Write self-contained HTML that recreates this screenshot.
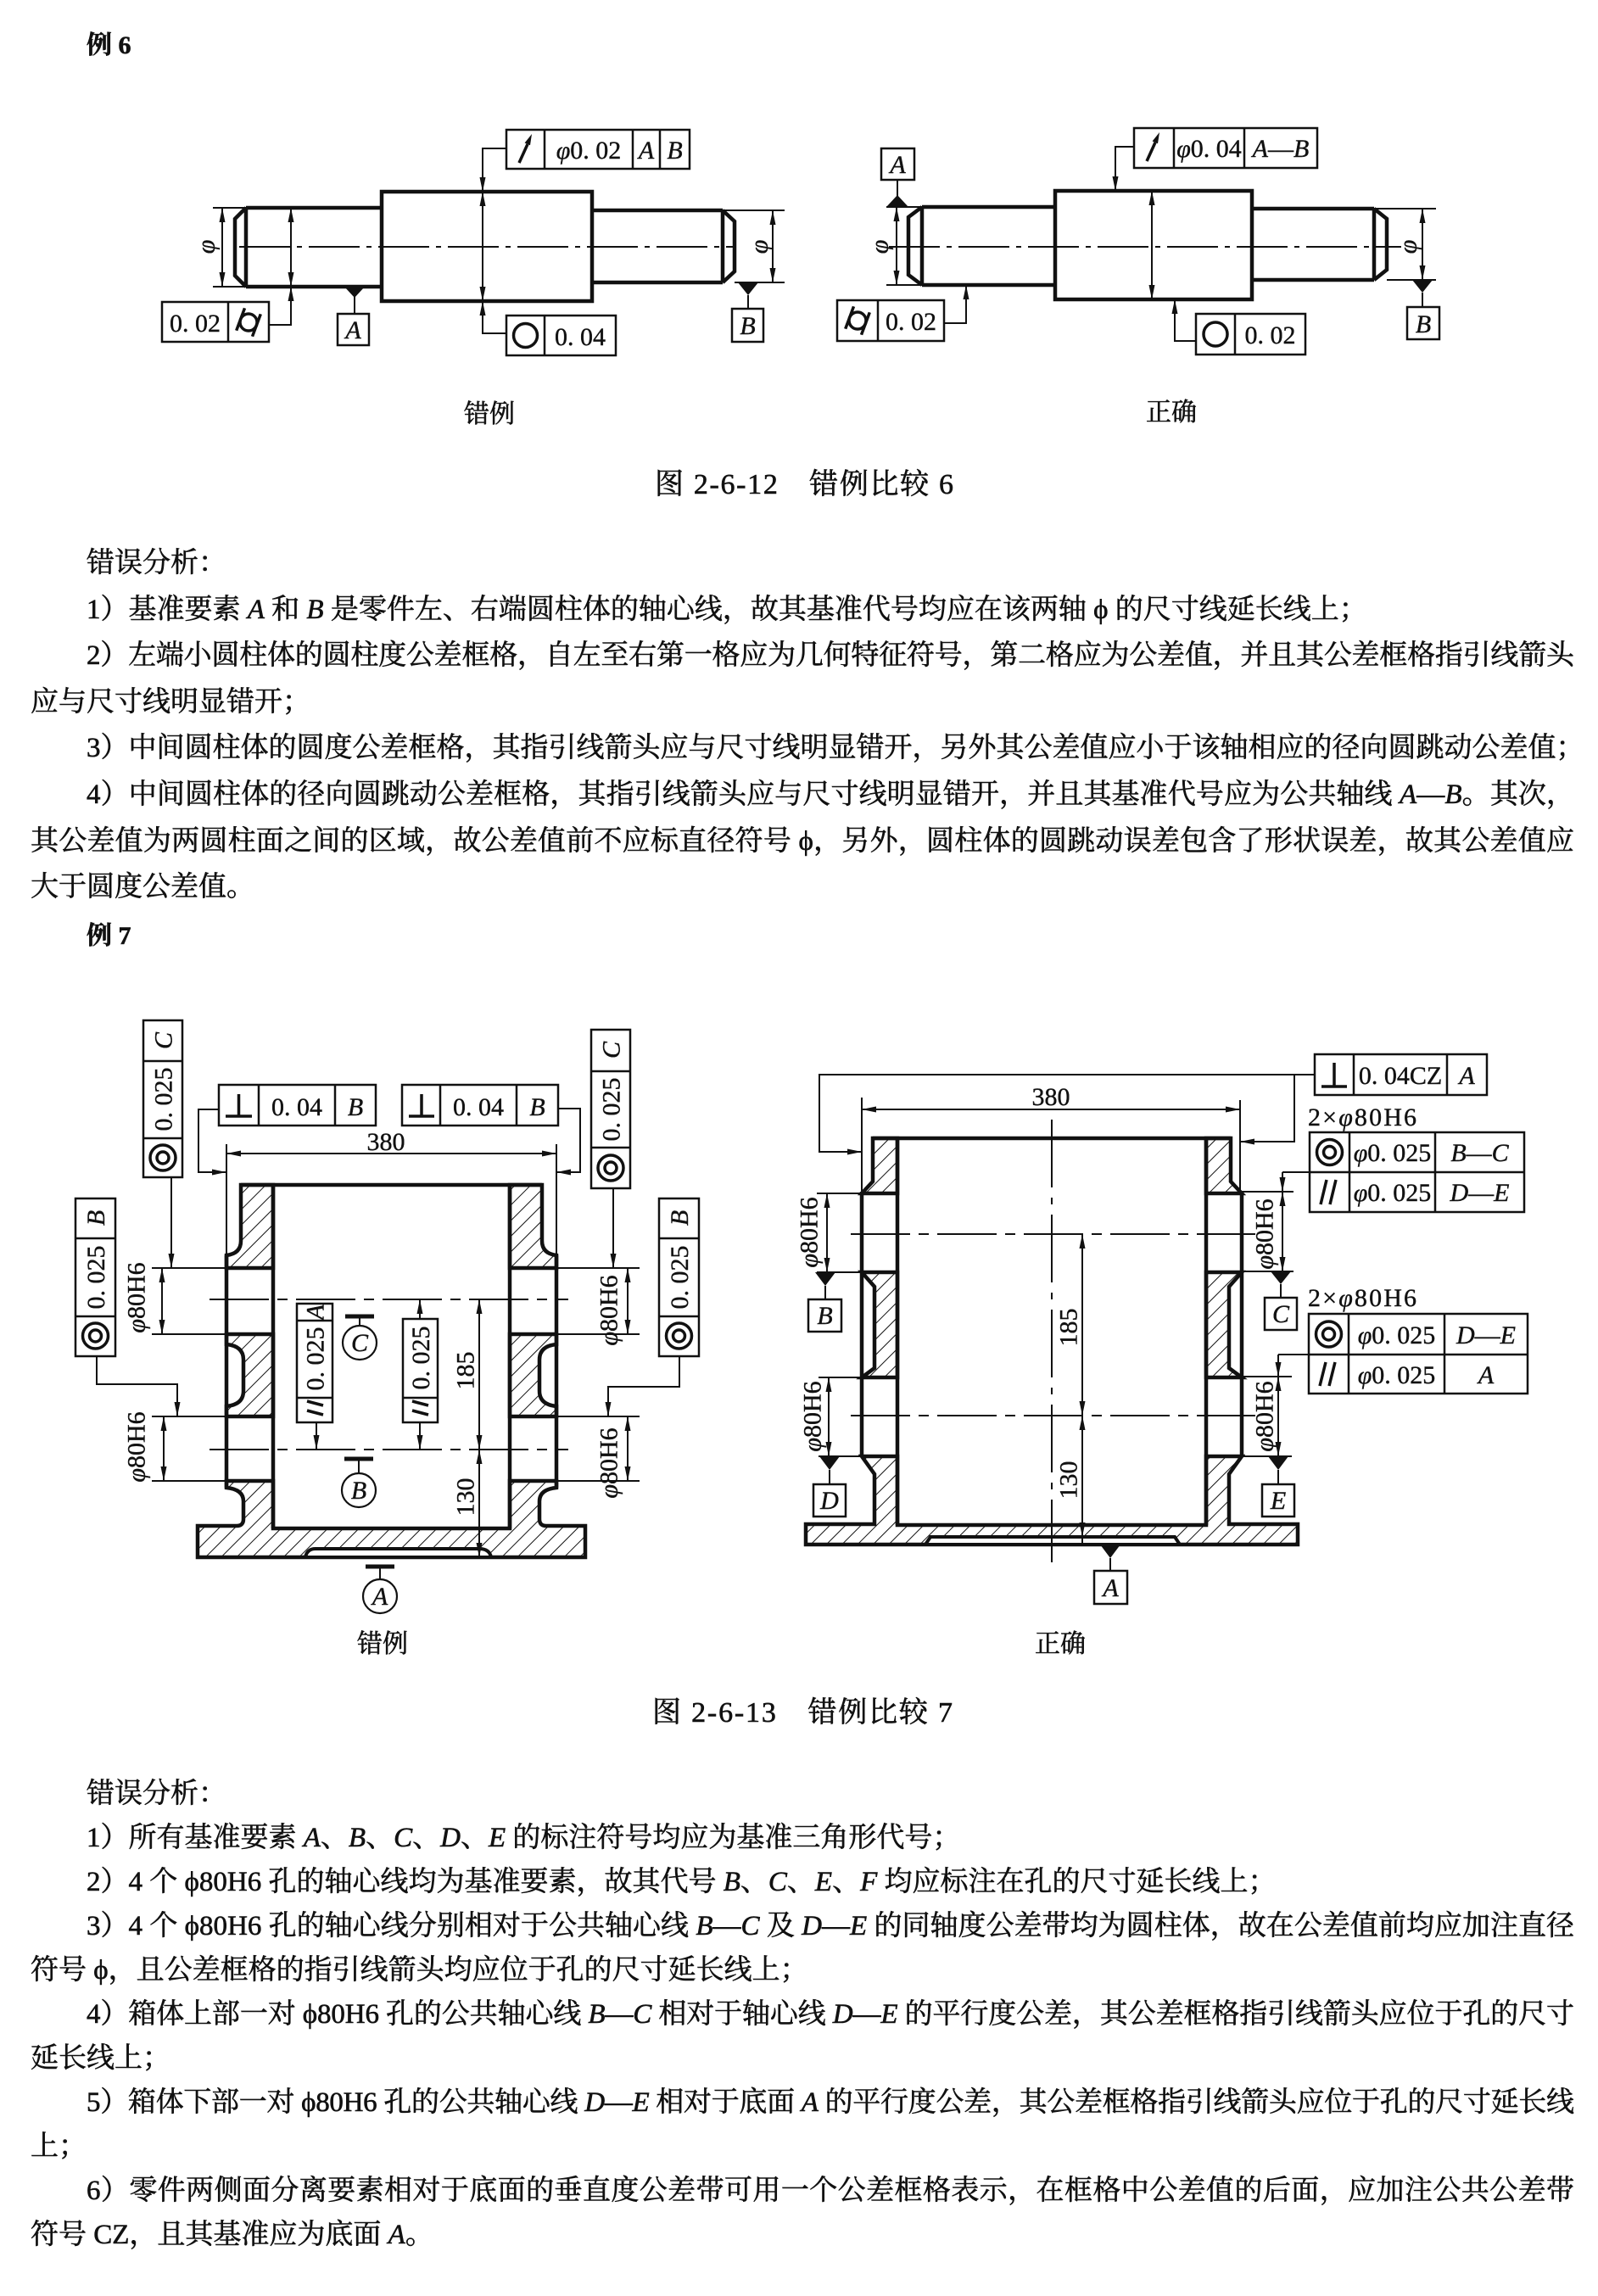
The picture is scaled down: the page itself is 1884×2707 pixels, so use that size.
<!DOCTYPE html>
<html><head><meta charset="utf-8">
<style>
html,body{margin:0;padding:0;background:#fff}
svg{display:block}
.t{font-family:"Liberation Serif","Noto Serif CJK SC",serif;font-size:33px;fill:#111;stroke:#111;stroke-width:0.6}
.c{font-family:"Liberation Serif","Noto Serif CJK SC",serif;fill:#111;stroke:#111;stroke-width:0.6}
.d{font-family:"Liberation Serif","Noto Serif CJK SC",serif;font-size:30px;fill:#111;stroke:#111;stroke-width:0.4}
.i{font-style:italic}
.k{stroke:#111;stroke-width:4.5;fill:none}
.n{stroke:#111;stroke-width:2;fill:none}
.f{stroke:#111;stroke-width:2.5;fill:none}
.s{stroke:#111;stroke-width:3.5;fill:none}
.a{fill:#111;stroke:none}
.h{fill:url(#h);stroke:#111;stroke-width:4.5}
</style></head><body>
<svg xmlns="http://www.w3.org/2000/svg" width="1884" height="2707" viewBox="0 0 1884 2707">
<defs>
<pattern id="h" patternUnits="userSpaceOnUse" width="13" height="13" patternTransform="rotate(45)">
<line x1="0" y1="0" x2="0" y2="13" stroke="#111" stroke-width="2"/>
</pattern>
</defs>
<rect width="1884" height="2707" fill="#fff"/>

<!-- 例6 -->
<text class="c" x="102" y="63" font-size="30" font-weight="bold">例 6</text>

<!-- ================= FIGURE 1 LEFT ================= -->
<g class="n">
<path d="M282,291 H866" stroke-dasharray="60 8 6 8"/>
<path d="M251,245 H290 M251,338 H290 M262,245 V338 M343,245 V383 H317 M597,175 H569 V393 H597 M852,248 H925 M866,333 H925 M911,248 V333 M418,350 V370 M882,348 V364"/>
</g>
<g class="k">
<path d="M290,245 H450 M290,338 H450 M290,245 V338 M290,245 L277,258 V325 L290,338"/>
<rect x="450" y="226" width="248" height="129"/>
<path d="M698,248 H852 M698,333 H852 M852,248 V333 M852,248 L866,261 V320 L852,333"/>
</g>
<g class="f">
<rect x="191" y="356" width="126" height="47"/><path d="M269,356 V403"/>
<rect x="597" y="153" width="216" height="46"/><path d="M642,153 V199 M746,153 V199 M778,153 V199"/>
<rect x="597" y="372" width="129" height="47"/><path d="M642,372 V419"/>
<rect x="398" y="370" width="37" height="37"/>
<rect x="863" y="364" width="37" height="39"/>
</g>
<g class="a">
<polygon points="406,338 430,338 418,351"/>
<polygon points="870,333 894,333 882,348"/>
<polygon points="262,245 258.5,262 265.5,262"/>
<polygon points="262,338 258.5,321 265.5,321"/>
<polygon points="343,245 339.5,262 346.5,262"/>
<polygon points="343,338 339.5,321 346.5,321"/>
<polygon points="343,338 339.5,355 346.5,355"/>
<polygon points="569,226 565.5,209 572.5,209"/>
<polygon points="569,226 565.5,243 572.5,243"/>
<polygon points="569,355 565.5,338 572.5,338"/>
<polygon points="569,355 565.5,372 572.5,372"/>
<polygon points="911,248 907.5,265 914.5,265"/>
<polygon points="911,333 907.5,316 914.5,316"/>
<polygon points="627,158 618.6,168.5 625,171.3"/>
</g>
<path class="s" d="M612,192 L622,170"/>
<circle class="s" cx="293" cy="380" r="10"/>
<path class="s" d="M278.7,389.7 L288.5,363.3 M297.5,396.7 L307.3,370.3"/>
<circle class="s" cx="619.5" cy="395.5" r="14"/>
<text class="d" x="230" y="391" text-anchor="middle">0. 02</text>
<text class="d" x="694" y="187" text-anchor="middle"><tspan class="i">φ</tspan>0. 02</text>
<text class="d i" x="762" y="187" text-anchor="middle">A</text>
<text class="d i" x="795.5" y="187" text-anchor="middle">B</text>
<text class="d" x="684" y="407" text-anchor="middle">0. 04</text>
<text class="d i" x="416.5" y="399" text-anchor="middle">A</text>
<text class="d i" x="881.5" y="394" text-anchor="middle">B</text>
<text class="d i" transform="translate(242,291) rotate(-90)" text-anchor="middle" dy="0.35em">φ</text>
<text class="d i" transform="translate(894,291) rotate(-90)" text-anchor="middle" dy="0.35em">φ</text>
<text class="c" x="577" y="498" font-size="30" text-anchor="middle">错例</text>

<!-- ================= FIGURE 1 RIGHT ================= -->
<g class="n">
<path d="M1048,291 H1652" stroke-dasharray="60 8 6 8"/>
<path d="M1045,244 H1087 M1045,336 H1087 M1057,244 V336 M1058,212 V231 M1620,246 H1693 M1635,330 H1693 M1677,246 V330 M1677,345 V362 M1337,173 H1315 V225 M1358,225 V353 M1410,402 H1385 V353 M1113,381 H1139 V336"/>
</g>
<g class="k">
<path d="M1087,244 H1244 M1087,336 H1244 M1087,244 V336 M1087,244 L1071,256 V324 L1087,336"/>
<rect x="1244" y="225" width="232" height="128"/>
<path d="M1476,246 H1620 M1476,330 H1620 M1620,246 V330 M1620,246 L1635,258 V318 L1620,330"/>
</g>
<g class="f">
<rect x="1039" y="175" width="39" height="37"/>
<rect x="1659" y="362" width="38" height="38"/>
<rect x="1337" y="151" width="216" height="47"/><path d="M1384,151 V198 M1467,151 V198"/>
<rect x="1410" y="370" width="129" height="48"/><path d="M1456,370 V418"/>
<rect x="987" y="354" width="126" height="48"/><path d="M1035,354 V402"/>
</g>
<g class="a">
<polygon points="1045,244 1071,244 1058,230"/>
<polygon points="1665,330 1689,330 1677,345"/>
<polygon points="1057,244 1053.5,261 1060.5,261"/>
<polygon points="1057,336 1053.5,319 1060.5,319"/>
<polygon points="1677,246 1673.5,263 1680.5,263"/>
<polygon points="1677,330 1673.5,313 1680.5,313"/>
<polygon points="1315,225 1311.5,208 1318.5,208"/>
<polygon points="1358,225 1354.5,242 1361.5,242"/>
<polygon points="1358,353 1354.5,336 1361.5,336"/>
<polygon points="1385,353 1381.5,370 1388.5,370"/>
<polygon points="1139,336 1135.5,353 1142.5,353"/>
<polygon points="1367,156 1358.6,166.5 1365,169.3"/>
</g>
<path class="s" d="M1352,190 L1362,168"/>
<circle class="s" cx="1011" cy="378" r="10"/>
<path class="s" d="M996.7,387.7 L1006.5,361.3 M1015.5,394.7 L1025.3,368.3"/>
<circle class="s" cx="1433" cy="394" r="14"/>
<text class="d" x="1074" y="389" text-anchor="middle">0. 02</text>
<text class="d" x="1425.5" y="185" text-anchor="middle"><tspan class="i">φ</tspan>0. 04</text>
<text class="d" x="1510" y="185" text-anchor="middle"><tspan class="i">A</tspan>—<tspan class="i">B</tspan></text>
<text class="d" x="1497.5" y="405" text-anchor="middle">0. 02</text>
<text class="d i" x="1058.5" y="204" text-anchor="middle">A</text>
<text class="d i" x="1678" y="392" text-anchor="middle">B</text>
<text class="d i" transform="translate(1036,291) rotate(-90)" text-anchor="middle" dy="0.35em">φ</text>
<text class="d i" transform="translate(1659,291) rotate(-90)" text-anchor="middle" dy="0.35em">φ</text>
<text class="c" x="1381" y="496" font-size="30" text-anchor="middle">正确</text>

<text class="c" x="772" y="582" font-size="34" textLength="352">图 2-6-12　错例比较 6</text>

<!-- ================= TEXT BLOCK 1 ================= -->
<text class="t" x="102" y="674">错误分析：</text>
<text class="t" x="102" y="729">1）基准要素 <tspan class="i">A</tspan> 和 <tspan class="i">B</tspan> 是零件左、右端圆柱体的轴心线，故其基准代号均应在该两轴 ϕ 的尺寸线延长线上；</text>
<text class="t" x="102" y="783" textLength="1754">2）左端小圆柱体的圆柱度公差框格，自左至右第一格应为几何特征符号，第二格应为公差值，并且其公差框格指引线箭头</text>
<text class="t" x="36" y="838">应与尺寸线明显错开；</text>
<text class="t" x="102" y="892">3）中间圆柱体的圆度公差框格，其指引线箭头应与尺寸线明显错开，另外其公差值应小于该轴相应的径向圆跳动公差值；</text>
<text class="t" x="102" y="947" textLength="1754">4）中间圆柱体的径向圆跳动公差框格，其指引线箭头应与尺寸线明显错开，并且其基准代号应为公共轴线 <tspan class="i">A</tspan>—<tspan class="i">B</tspan>。其次，</text>
<text class="t" x="36" y="1002" textLength="1820">其公差值为两圆柱面之间的区域，故公差值前不应标直径符号 ϕ，另外，圆柱体的圆跳动误差包含了形状误差，故其公差值应</text>
<text class="t" x="36" y="1056">大于圆度公差值。</text>
<text class="c" x="102" y="1113" font-size="30" font-weight="bold">例 7</text>

<!-- ================= FIGURE 2 LEFT (错例) ================= -->
<path class="h" d="M284,1397 L322,1397 L322,1495 L267,1495 L267,1480 Q284,1478 284,1463 Z"/>
<path class="h" d="M639,1397 L601,1397 L601,1495 L656,1495 L656,1480 Q639,1478 639,1463 Z"/>
<path class="h" d="M267,1573 L322,1573 L322,1670 L267,1670 L267,1658 Q287,1656 287,1640 L287,1603 Q287,1587 267,1585 Z"/>
<path class="h" d="M656,1573 L601,1573 L601,1670 L656,1670 L656,1658 Q636,1656 636,1640 L636,1603 Q636,1587 656,1585 Z"/>
<path class="h" d="M267,1746 L322,1746 L322,1802 L601,1802 L601,1746 L656,1746 L656,1754 Q636,1756 636,1770 L636,1791 Q636,1799 644,1799 L690,1799 L690,1836 L233,1836 L233,1799 L279,1799 Q287,1799 287,1791 L287,1770 Q287,1756 267,1754 Z"/>
<path d="M360,1836 Q362,1826 372,1826 L565,1826 Q577,1826 579,1836 Z" fill="#fff" stroke="#111" stroke-width="4"/>
<g class="k">
<path d="M284,1397 H639 M322,1397 V1802 M601,1397 V1802 M267,1480 V1754 M656,1480 V1754"/>
</g>
<g class="n">
<path d="M247,1532 H670 M247,1709 H670" stroke-dasharray="70 10 12 10"/>
<path d="M202,1388 V1495 M723,1401 V1495 M114,1599 V1632 H209 V1670 M801,1599 V1635 H717 V1670 M258,1308 H234 V1382 H267 M658,1307 H684 V1382 H656"/>
<path d="M267,1360 H656 M267,1349 V1480 M656,1349 V1480"/>
<path d="M179,1495 H267 M179,1573 H267 M179,1670 H267 M179,1746 H267 M656,1495 H754 M656,1573 H754 M656,1670 H754 M656,1746 H754"/>
<path d="M191,1495 V1573 M193,1670 V1746 M740,1495 V1573 M740,1670 V1746"/>
<path d="M373,1677 V1709 M495,1677 V1709 M495,1555 V1532 M565,1532 V1836"/>
<path d="M424,1552 V1563 M423,1720 V1737 M448,1847 V1862"/>
</g>
<path d="M407,1552 H441 M406,1720 H440 M431,1847 H465" stroke="#111" stroke-width="5" fill="none"/>
<g fill="none" stroke="#111" stroke-width="2.2">
<circle cx="424" cy="1583" r="20"/><circle cx="423" cy="1757" r="20"/><circle cx="448" cy="1882" r="20"/>
</g>
<text class="d i" x="424" y="1593" text-anchor="middle" font-size="28">C</text>
<text class="d i" x="423" y="1767" text-anchor="middle" font-size="28">B</text>
<text class="d i" x="448" y="1892" text-anchor="middle" font-size="28">A</text>
<g class="f">
<rect x="169" y="1203" width="46" height="185"/><path d="M169,1251 H215 M169,1342 H215"/>
<rect x="697" y="1214" width="46" height="187"/><path d="M697,1263 H743 M697,1353 H743"/>
<rect x="89" y="1413" width="47" height="186"/><path d="M89,1460 H136 M89,1552 H136"/>
<rect x="777" y="1413" width="47" height="186"/><path d="M777,1460 H824 M777,1552 H824"/>
<rect x="258" y="1279" width="185" height="48"/><path d="M305,1279 V1327 M395,1279 V1327"/>
<rect x="474" y="1279" width="184" height="48"/><path d="M519,1279 V1327 M609,1279 V1327"/>
<rect x="350" y="1537" width="42" height="140"/><path d="M350,1557 H392 M350,1648 H392"/>
<rect x="475" y="1555" width="41" height="122"/><path d="M475,1648 H516"/>
</g>
<g class="s">
<circle cx="192" cy="1365" r="15"/><circle cx="192" cy="1365" r="7"/>
<circle cx="720" cy="1377" r="15"/><circle cx="720" cy="1377" r="7"/>
<circle cx="112.5" cy="1575" r="15"/><circle cx="112.5" cy="1575" r="7"/>
<circle cx="800.5" cy="1575" r="15"/><circle cx="800.5" cy="1575" r="7"/>
<path d="M266,1316 H297 M281.5,1290 V1316 M482,1316 H512 M497,1290 V1316"/>
<path d="M381,1668 L362,1663 M381,1657 L362,1652 M505,1668 L486,1663 M505,1657 L486,1652"/>
</g>
<g class="a">
<polygon points="202,1495 198.5,1478 205.5,1478"/>
<polygon points="723,1495 719.5,1478 726.5,1478"/>
<polygon points="267,1382 250,1378.5 250,1385.5"/>
<polygon points="656,1382 673,1378.5 673,1385.5"/>
<polygon points="267,1360 284,1356.5 284,1363.5"/>
<polygon points="656,1360 639,1356.5 639,1363.5"/>
<polygon points="191,1495 187.5,1512 194.5,1512"/>
<polygon points="191,1573 187.5,1556 194.5,1556"/>
<polygon points="193,1670 189.5,1687 196.5,1687"/>
<polygon points="193,1746 189.5,1729 196.5,1729"/>
<polygon points="740,1495 736.5,1512 743.5,1512"/>
<polygon points="740,1573 736.5,1556 743.5,1556"/>
<polygon points="740,1670 736.5,1687 743.5,1687"/>
<polygon points="740,1746 736.5,1729 743.5,1729"/>
<polygon points="209,1670 205.5,1653 212.5,1653"/>
<polygon points="717,1670 713.5,1653 720.5,1653"/>
<polygon points="373,1709 369.5,1692 376.5,1692"/>
<polygon points="495,1709 491.5,1692 498.5,1692"/>
<polygon points="495,1532 491.5,1549 498.5,1549"/>
<polygon points="565,1532 561.5,1549 568.5,1549"/>
<polygon points="565,1709 561.5,1692 568.5,1692"/>
<polygon points="565,1709 561.5,1726 568.5,1726"/>
<polygon points="565,1836 561.5,1819 568.5,1819"/>
</g>
<text class="d" x="455" y="1356" text-anchor="middle">380</text>
<text class="d" x="350" y="1315" text-anchor="middle">0. 04</text>
<text class="d i" x="419" y="1315" text-anchor="middle">B</text>
<text class="d" x="564" y="1315" text-anchor="middle">0. 04</text>
<text class="d i" x="633.5" y="1315" text-anchor="middle">B</text>
<text class="d i" transform="translate(192,1227) rotate(-90)" text-anchor="middle" dy="0.35em">C</text>
<text class="d" transform="translate(192,1296) rotate(-90)" text-anchor="middle" dy="0.35em">0. 025</text>
<text class="d i" transform="translate(720,1238) rotate(-90)" text-anchor="middle" dy="0.35em">C</text>
<text class="d" transform="translate(720,1308) rotate(-90)" text-anchor="middle" dy="0.35em">0. 025</text>
<text class="d i" transform="translate(112.5,1436) rotate(-90)" text-anchor="middle" dy="0.35em">B</text>
<text class="d" transform="translate(112.5,1506) rotate(-90)" text-anchor="middle" dy="0.35em">0. 025</text>
<text class="d i" transform="translate(800.5,1436) rotate(-90)" text-anchor="middle" dy="0.35em">B</text>
<text class="d" transform="translate(800.5,1506) rotate(-90)" text-anchor="middle" dy="0.35em">0. 025</text>
<text class="d i" transform="translate(371,1547) rotate(-90)" text-anchor="middle" dy="0.35em" font-size="22">A</text>
<text class="d" transform="translate(371,1602) rotate(-90)" text-anchor="middle" dy="0.35em">0. 025</text>
<text class="d" transform="translate(495.5,1601) rotate(-90)" text-anchor="middle" dy="0.35em">0. 025</text>
<text class="d" transform="translate(160,1530) rotate(-90)" text-anchor="middle" dy="0.35em" font-size="31"><tspan class="i">φ</tspan>80H6</text>
<text class="d" transform="translate(160,1706) rotate(-90)" text-anchor="middle" dy="0.35em" font-size="31"><tspan class="i">φ</tspan>80H6</text>
<text class="d" transform="translate(717,1545) rotate(-90)" text-anchor="middle" dy="0.35em" font-size="31"><tspan class="i">φ</tspan>80H6</text>
<text class="d" transform="translate(717,1725) rotate(-90)" text-anchor="middle" dy="0.35em" font-size="31"><tspan class="i">φ</tspan>80H6</text>
<text class="d" transform="translate(548,1616) rotate(-90)" text-anchor="middle" dy="0.35em">185</text>
<text class="d" transform="translate(548,1765) rotate(-90)" text-anchor="middle" dy="0.35em">130</text>
<text class="c" x="451" y="1948" font-size="30" text-anchor="middle">错例</text>

<!-- ================= FIGURE 2 RIGHT (正确) ================= -->
<path class="h" d="M1029,1342 L1058,1342 L1058,1407 L1016,1407 L1029,1393 Z"/>
<path class="h" d="M1451,1342 L1422,1342 L1422,1407 L1464,1407 L1451,1393 Z"/>
<path class="h" d="M1016,1500 L1058,1500 L1058,1624 L1016,1624 L1031,1613 L1031,1517 Z"/>
<path class="h" d="M1464,1500 L1422,1500 L1422,1624 L1464,1624 L1449,1613 L1449,1517 Z"/>
<path class="h" d="M1016,1717 L1058,1717 L1058,1798 L1422,1798 L1422,1717 L1464,1717 L1449,1738 L1449,1797 L1530,1797 L1530,1821 L950,1821 L950,1797 L1031,1797 L1031,1738 Z"/>
<path d="M1091,1821 L1097,1812 L1385,1812 L1391,1821 Z" fill="#fff" stroke="#111" stroke-width="4"/>
<g class="k">
<path d="M1029,1342 H1451 M1058,1342 V1798 M1422,1342 V1798 M1016,1405 V1717 M1464,1405 V1717"/>
</g>
<g class="n">
<path d="M1003,1455 H1480 M1003,1669 H1480" stroke-dasharray="70 10 12 10"/>
<path d="M1240,1320 V1842" stroke-dasharray="80 12 8 12"/>
<path d="M1550,1267 H966 V1358 H1016 M1526,1267 V1346 H1462"/>
<path d="M1016,1308 H1462 M1016,1294 V1405 M1462,1297 V1405"/>
<path d="M963,1407 H1016 M963,1500 H1016 M965,1624 H1016 M965,1717 H1016 M1462,1405 H1525 M1462,1499 H1525 M1462,1623 H1523 M1462,1717 H1523"/>
<path d="M975,1407 V1500 M977,1624 V1717 M1512,1382 V1499 M1507,1597 V1717 M1544,1382 H1512 M1543,1597 H1507"/>
<path d="M1276,1455 V1821"/>
<path d="M973,1516 V1532 M1510,1514 V1530 M978,1733 V1750 M1507,1733 V1750 M1309,1837 V1852"/>
</g>
<g class="f">
<rect x="1550" y="1243" width="203" height="48"/><path d="M1596,1243 V1291 M1706,1243 V1291"/>
<rect x="1544" y="1335" width="253" height="94"/><path d="M1544,1382 H1797 M1591,1335 V1429 M1692,1335 V1429"/>
<rect x="1543" y="1549" width="258" height="94"/><path d="M1543,1597 H1801 M1590,1549 V1643 M1703,1549 V1643"/>
<rect x="953" y="1532" width="39" height="38"/>
<rect x="1491" y="1530" width="38" height="38"/>
<rect x="959" y="1750" width="38" height="38"/>
<rect x="1488" y="1750" width="38" height="38"/>
<rect x="1290" y="1852" width="39" height="39"/>
</g>
<g class="s">
<path d="M1558,1281 H1588 M1573,1253 V1281"/>
<circle cx="1567.5" cy="1358.5" r="15"/><circle cx="1567.5" cy="1358.5" r="7"/>
<path d="M1557,1420 L1564,1391 M1568,1420 L1575,1391"/>
<circle cx="1566.5" cy="1573" r="15"/><circle cx="1566.5" cy="1573" r="7"/>
<path d="M1556,1634 L1563,1606 M1567,1634 L1574,1606"/>
</g>
<g class="a">
<polygon points="961,1500 985,1500 973,1516"/>
<polygon points="1498,1499 1522,1499 1510,1514"/>
<polygon points="966,1717 990,1717 978,1733"/>
<polygon points="1495,1717 1519,1717 1507,1733"/>
<polygon points="1297,1821 1321,1821 1309,1837"/>
<polygon points="1016,1358 999,1354.5 999,1361.5"/>
<polygon points="1462,1346 1479,1342.5 1479,1349.5"/>
<polygon points="1016,1308 1033,1304.5 1033,1311.5"/>
<polygon points="1462,1308 1445,1304.5 1445,1311.5"/>
<polygon points="975,1407 971.5,1424 978.5,1424"/>
<polygon points="975,1500 971.5,1483 978.5,1483"/>
<polygon points="977,1624 973.5,1641 980.5,1641"/>
<polygon points="977,1717 973.5,1700 980.5,1700"/>
<polygon points="1512,1405 1508.5,1388 1515.5,1388"/>
<polygon points="1512,1405 1508.5,1422 1515.5,1422"/>
<polygon points="1512,1499 1508.5,1482 1515.5,1482"/>
<polygon points="1507,1623 1503.5,1606 1510.5,1606"/>
<polygon points="1507,1623 1503.5,1640 1510.5,1640"/>
<polygon points="1507,1717 1503.5,1700 1510.5,1700"/>
<polygon points="1276,1455 1272.5,1472 1279.5,1472"/>
<polygon points="1276,1669 1272.5,1652 1279.5,1652"/>
<polygon points="1276,1669 1272.5,1686 1279.5,1686"/>
<polygon points="1276,1812 1272.5,1795 1279.5,1795"/>
</g>
<text class="d" x="1651" y="1278" text-anchor="middle">0. 04CZ</text>
<text class="d i" x="1729.5" y="1278" text-anchor="middle">A</text>
<text class="d" x="1542" y="1327" font-size="28" textLength="128">2×<tspan class="i">φ</tspan>80H6</text>
<text class="d" x="1542" y="1540" font-size="28" textLength="128">2×<tspan class="i">φ</tspan>80H6</text>
<text class="d" x="1641.5" y="1369" text-anchor="middle"><tspan class="i">φ</tspan>0. 025</text>
<text class="d" x="1744.5" y="1369" text-anchor="middle"><tspan class="i">B</tspan>—<tspan class="i">C</tspan></text>
<text class="d" x="1641.5" y="1416" text-anchor="middle"><tspan class="i">φ</tspan>0. 025</text>
<text class="d" x="1744.5" y="1416" text-anchor="middle"><tspan class="i">D</tspan>—<tspan class="i">E</tspan></text>
<text class="d" x="1646.5" y="1584" text-anchor="middle"><tspan class="i">φ</tspan>0. 025</text>
<text class="d" x="1752" y="1584" text-anchor="middle"><tspan class="i">D</tspan>—<tspan class="i">E</tspan></text>
<text class="d" x="1646.5" y="1631" text-anchor="middle"><tspan class="i">φ</tspan>0. 025</text>
<text class="d i" x="1752" y="1631" text-anchor="middle">A</text>
<text class="d" x="1239" y="1303" text-anchor="middle">380</text>
<text class="d" transform="translate(953,1453) rotate(-90)" text-anchor="middle" dy="0.35em" font-size="31"><tspan class="i">φ</tspan>80H6</text>
<text class="d" transform="translate(957,1670) rotate(-90)" text-anchor="middle" dy="0.35em" font-size="31"><tspan class="i">φ</tspan>80H6</text>
<text class="d" transform="translate(1490,1455) rotate(-90)" text-anchor="middle" dy="0.35em" font-size="31"><tspan class="i">φ</tspan>80H6</text>
<text class="d" transform="translate(1490,1670) rotate(-90)" text-anchor="middle" dy="0.35em" font-size="31"><tspan class="i">φ</tspan>80H6</text>
<text class="d" transform="translate(1259,1565) rotate(-90)" text-anchor="middle" dy="0.35em">185</text>
<text class="d" transform="translate(1259,1745) rotate(-90)" text-anchor="middle" dy="0.35em">130</text>
<text class="d i" x="972.5" y="1561" text-anchor="middle">B</text>
<text class="d i" x="1510" y="1559" text-anchor="middle">C</text>
<text class="d i" x="978" y="1779" text-anchor="middle">D</text>
<text class="d i" x="1507" y="1779" text-anchor="middle">E</text>
<text class="d i" x="1309.5" y="1882" text-anchor="middle">A</text>
<text class="c" x="1250" y="1948" font-size="30" text-anchor="middle">正确</text>

<text class="c" x="769" y="2030" font-size="34" textLength="354">图 2-6-13　错例比较 7</text>

<!-- ================= TEXT BLOCK 2 ================= -->
<text class="t" x="102" y="2125">错误分析：</text>
<text class="t" x="102" y="2177">1）所有基准要素 <tspan class="i">A</tspan>、<tspan class="i">B</tspan>、<tspan class="i">C</tspan>、<tspan class="i">D</tspan>、<tspan class="i">E</tspan> 的标注符号均应为基准三角形代号；</text>
<text class="t" x="102" y="2229">2）4 个 ϕ80H6 孔的轴心线均为基准要素，故其代号 <tspan class="i">B</tspan>、<tspan class="i">C</tspan>、<tspan class="i">E</tspan>、<tspan class="i">F</tspan> 均应标注在孔的尺寸延长线上；</text>
<text class="t" x="102" y="2281" textLength="1754">3）4 个 ϕ80H6 孔的轴心线分别相对于公共轴心线 <tspan class="i">B</tspan>—<tspan class="i">C</tspan> 及 <tspan class="i">D</tspan>—<tspan class="i">E</tspan> 的同轴度公差带均为圆柱体，故在公差值前均应加注直径</text>
<text class="t" x="36" y="2333">符号 ϕ，且公差框格的指引线箭头均应位于孔的尺寸延长线上；</text>
<text class="t" x="102" y="2385" textLength="1754">4）箱体上部一对 ϕ80H6 孔的公共轴心线 <tspan class="i">B</tspan>—<tspan class="i">C</tspan> 相对于轴心线 <tspan class="i">D</tspan>—<tspan class="i">E</tspan> 的平行度公差，其公差框格指引线箭头应位于孔的尺寸</text>
<text class="t" x="36" y="2437">延长线上；</text>
<text class="t" x="102" y="2489" textLength="1754">5）箱体下部一对 ϕ80H6 孔的公共轴心线 <tspan class="i">D</tspan>—<tspan class="i">E</tspan> 相对于底面 <tspan class="i">A</tspan> 的平行度公差，其公差框格指引线箭头应位于孔的尺寸延长线</text>
<text class="t" x="36" y="2541">上；</text>
<text class="t" x="102" y="2593" textLength="1754">6）零件两侧面分离要素相对于底面的垂直度公差带可用一个公差框格表示，在框格中公差值的后面，应加注公共公差带</text>
<text class="t" x="36" y="2645">符号 CZ，且其基准应为底面 <tspan class="i">A</tspan>。</text>
</svg>
</body></html>
